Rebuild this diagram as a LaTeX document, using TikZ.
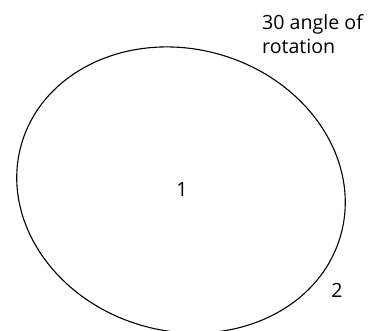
\documentclass[tikz,border=0pt]{standalone}
\usepackage{fontspec}
\setmainfont{Open Sans}
\usetikzlibrary{shapes.geometric}
\begin{document}
\begin{tikzpicture}[x=1pt,y=-1pt,
  outline/.style={draw=black, line width=1.1pt, ellipse, inner sep=0pt, outer sep=0pt},
  lbl/.style={font=\fontsize{19.6}{24}\selectfont, text=black, inner sep=0pt}]
\useasboundingbox (0,0) rectangle (378,330);
\clip (0,0) rectangle (378,330);
\node[outline, minimum width=332pt, minimum height=282pt, rotate=-16] (e) at (181,190) {};
\node[lbl] (one) at (182,190) {1};
\node[lbl] (two) at (337,290) {2};
\node[lbl, anchor=base west] (t1) at (262,29) {30 angle of};
\node[lbl, anchor=base west] (t2) at (262,53) {rotation};
\end{tikzpicture}
\end{document}
